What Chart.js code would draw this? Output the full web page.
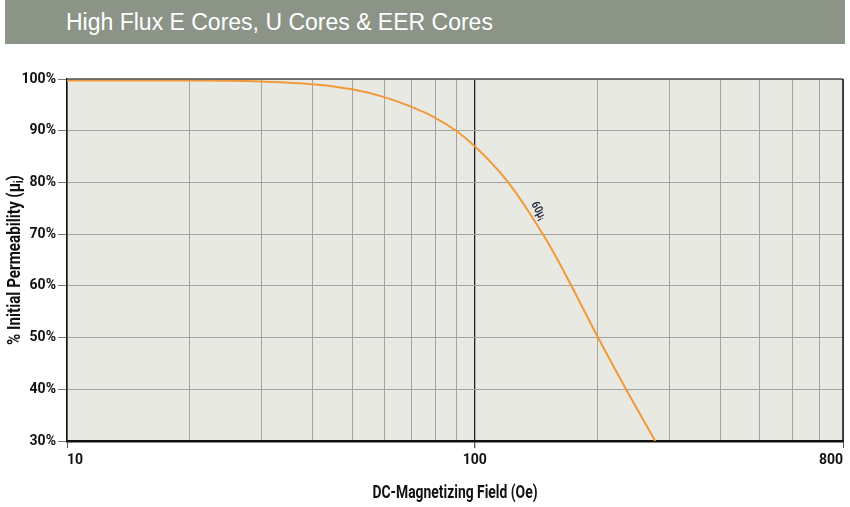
<!DOCTYPE html>
<html>
<head>
<meta charset="utf-8">
<script src="https://cdn.jsdelivr.net/npm/chart.js@4.4.1/dist/chart.umd.min.js"></script>
<style>
  body { margin: 0; background: #fff; width: 850px; height: 507px; overflow: hidden; }
  .banner {
    position: absolute; left: 5px; top: 0; width: 840px; height: 44px;
    background: #8b9487; color: #fff;
    font-family: "Liberation Sans", Arial, sans-serif; font-size: 23px;
    line-height: 44px; padding-left: 61px; box-sizing: border-box;
  }
  #wrap { position: absolute; left: 0; top: 45px; width: 850px; height: 462px; }
</style>
</head>
<body>
<div class="banner">High Flux E Cores, U Cores &amp; EER Cores</div>
<div id="wrap"><canvas id="perm" width="850" height="462"></canvas></div>
<script>
// curve: field (Oe) vs % initial permeability
const fieldOe = [10, 20, 30, 40, 50, 60, 70, 80, 90, 100, 120, 150, 170, 200, 235, 277];
const permPct = [99.7, 99.7, 99.5, 99.0, 98.0, 96.5, 94.6, 92.5, 90.0, 87.0, 80.3, 68.8, 61.0, 50.2, 40.0, 30.0];
const yTicks = [30, 40, 50, 60, 70, 80, 90, 100];
const xTicks = [10, 20, 30, 40, 50, 60, 70, 80, 90, 100, 200, 300, 400, 500, 600, 700, 800];
const xLabels = [10, 100, 800];
const curveLabel = '60µ';
const xTitle = 'DC-Magnetizing Field (Oe)';
const yTitle = '% Initial Permeability (µ';

const fam = 'Roboto, "Liberation Sans", sans-serif';

// draw text squeezed horizontally to look like the condensed face of the original
function squeezed(ctx, parts, cx, cy, squeeze) {
    // parts: [{text, size, dy}]
    let total = 0;
    parts.forEach(p => { ctx.font = '700 ' + p.size + 'px ' + fam; p.w = ctx.measureText(p.text).width; total += p.w; });
    ctx.save();
    ctx.translate(cx, cy);
    ctx.scale(squeeze, 1);
    ctx.textBaseline = 'middle';
    ctx.textAlign = 'left';
    let x = -total / 2;
    parts.forEach(p => {
        ctx.font = '700 ' + p.size + 'px ' + fam;
        ctx.fillText(p.text, x, p.dy || 0);
        x += p.w;
    });
    ctx.restore();
}

const plotDecor = {
    id: 'plotDecor',
    beforeDraw(chart) {
        const { ctx, chartArea: a } = chart;
        ctx.save();
        ctx.fillStyle = '#e9e9e4';
        ctx.fillRect(a.left, a.top, a.right - a.left, a.bottom - a.top);
        ctx.restore();
    },
    afterDraw(chart) {
        const { ctx, chartArea: a, scales } = chart;
        ctx.save();
        // top and right frame
        ctx.strokeStyle = '#555';
        ctx.lineWidth = 1.5;
        ctx.beginPath();
        ctx.moveTo(a.left, a.top); ctx.lineTo(a.right, a.top);
        ctx.stroke();
        ctx.strokeStyle = '#111';
        ctx.beginPath();
        ctx.moveTo(a.right, a.top); ctx.lineTo(a.right, a.bottom);
        ctx.stroke();
        ctx.restore();

        ctx.save();
        ctx.fillStyle = '#111';
        // x axis title
        squeezed(ctx, [{ text: xTitle, size: 19 }], (a.left + a.right) / 2, 448, 0.73);
        // y axis title with subscript
        ctx.translate(15, 215);
        ctx.rotate(-Math.PI / 2);
        squeezed(ctx, [{ text: yTitle, size: 19 }, { text: 'i', size: 12, dy: 5 }, { text: ')', size: 19 }], 0, 0, 0.8);
        ctx.restore();

        // curve label
        ctx.save();
        const px = scales.x.getPixelForValue(143);
        const py = scales.y.getPixelForValue(74.5);
        ctx.translate(px, py);
        ctx.rotate(62 * Math.PI / 180);
        ctx.fillStyle = '#2a3140';
        squeezed(ctx, [{ text: curveLabel, size: 12 }, { text: 'i', size: 8, dy: 3 }], 0, 0, 0.8);
        ctx.restore();
    }
};

new Chart(document.getElementById('perm'), {
    type: 'line',
    data: {
        datasets: [{
            data: fieldOe.map((x, i) => ({ x: x, y: permPct[i] })),
            borderColor: '#f19a38',
            borderWidth: 2,
            pointRadius: 0,
            cubicInterpolationMode: 'monotone',
            fill: false
        }]
    },
    options: {
        responsive: false,
        animation: false,
        maintainAspectRatio: false,
        layout: { padding: { top: 34, right: 7, left: 0, bottom: 0 } },
        plugins: { legend: { display: false }, tooltip: { enabled: false } },
        scales: {
            x: {
                type: 'logarithmic',
                min: 10, max: 800,
                afterBuildTicks: s => { s.ticks = xTicks.map(v => ({ value: v })); },
                afterFit: s => { s.height = 66; s.paddingRight = 0; s.paddingLeft = 0; },
                ticks: {
                    autoSkip: false, maxRotation: 0,
                    align: 'inner',
                    color: '#111',
                    font: { family: fam, size: 14, weight: '700' },
                    padding: 4,
                    callback: v => xLabels.includes(v) ? String(v) : ''
                },
                grid: {
                    color: c => c.tick && c.tick.value === 100 ? '#222' : '#a3a3a0',
                    lineWidth: c => c.tick && c.tick.value === 100 ? 1.3 : 1,
                    tickColor: c => c.tick && xLabels.includes(c.tick.value) ? '#555' : 'rgba(0,0,0,0)',
                    tickLength: 7
                },
                border: { color: '#111', width: 2.5 }
            },
            y: {
                min: 30, max: 100,
                afterBuildTicks: s => { s.ticks = yTicks.map(v => ({ value: v })); },
                afterFit: s => { s.width = 67; s.paddingTop = 0; s.paddingBottom = 0; },
                ticks: {
                    color: '#111',
                    font: { family: fam, size: 14, weight: '700' },
                    padding: 2,
                    callback: v => v + '%'
                },
                grid: {
                    color: '#a3a3a0',
                    tickColor: '#777',
                    tickLength: 9
                },
                border: { color: '#111', width: 1.5 }
            }
        }
    },
    plugins: [plotDecor]
});
</script>
</body>
</html>
